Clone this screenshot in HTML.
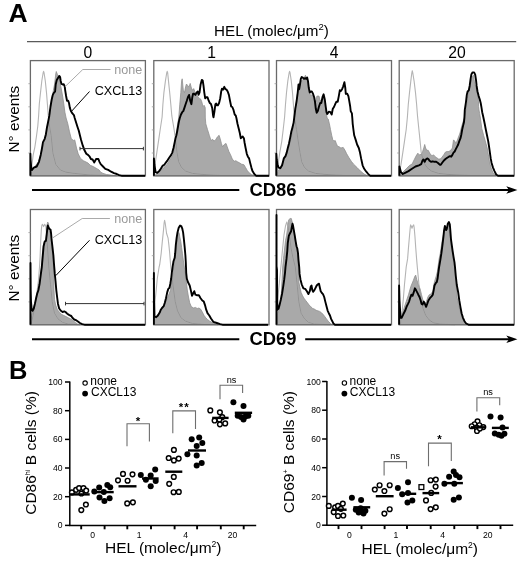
<!DOCTYPE html>
<html><head><meta charset="utf-8"><style>
html,body{margin:0;padding:0;background:#fff;width:520px;height:563px;overflow:hidden}
svg{display:block;will-change:transform}
text{font-family:"Liberation Sans",sans-serif;fill:#000}
</style></head><body>
<svg width="520" height="563" viewBox="0 0 520 563">
<text x="8.6" y="22.2" font-size="26.5" font-weight="bold">A</text>
<text x="271.5" y="35.6" font-size="15.2" text-anchor="middle">HEL (molec/μm<tspan font-size="9.5" dy="-5.5">2</tspan><tspan dy="5.5">)</tspan></text>
<line x1="27" y1="41.7" x2="516.2" y2="41.7" stroke="#5a5a5a" stroke-width="1.3"/>
<g font-size="15.7" text-anchor="middle">
<text x="87.9" y="57.8">0</text>
<text x="211.5" y="57.8">1</text>
<text x="334" y="57.8">4</text>
<text x="457" y="57.8">20</text>
</g>
<polygon points="30.9,175.7 30.9,172.2 32.6,170.0 34.9,166.5 38.4,161.8 40.7,154.9 43.0,146.8 45.3,138.8 47.0,129.5 48.8,118.0 50.0,113.4 51.1,104.0 52.2,96.0 53.4,90.3 54.5,84.5 55.3,78.0 55.8,73.5 56.3,71.5 56.8,73.0 57.5,74.5 59.2,77.6 60.9,86.8 62.6,96.0 63.8,104.0 64.9,112.2 66.1,118.0 67.8,123.8 69.5,131.8 71.3,138.8 73.6,140.5 74.7,139.9 75.3,142.2 76.5,148.0 78.2,153.8 80.5,158.4 83.4,160.7 88.0,163.0 90.3,165.3 93.2,166.5 96.1,168.2 99.0,169.9 100.7,172.2 103.0,173.4 106.5,174.5 111.1,175.1 116.8,175.7 116.8,175.7" fill="#a9a9a9" stroke="#8f8f8f" stroke-width="0.8" stroke-linejoin="round"/>
<clipPath id="cp_r1c1"><polygon points="30.9,175.7 30.9,172.2 32.6,170.0 34.9,166.5 38.4,161.8 40.7,154.9 43.0,146.8 45.3,138.8 47.0,129.5 48.8,118.0 50.0,113.4 51.1,104.0 52.2,96.0 53.4,90.3 54.5,84.5 55.3,78.0 55.8,73.5 56.3,71.5 56.8,73.0 57.5,74.5 59.2,77.6 60.9,86.8 62.6,96.0 63.8,104.0 64.9,112.2 66.1,118.0 67.8,123.8 69.5,131.8 71.3,138.8 73.6,140.5 74.7,139.9 75.3,142.2 76.5,148.0 78.2,153.8 80.5,158.4 83.4,160.7 88.0,163.0 90.3,165.3 93.2,166.5 96.1,168.2 99.0,169.9 100.7,172.2 103.0,173.4 106.5,174.5 111.1,175.1 116.8,175.7 116.8,175.7"/></clipPath>
<polyline points="31.0,175.5 31.2,172.0 32.0,164.2 33.2,154.9 34.9,146.8 36.5,136.0 37.8,126.0 38.6,116.0 39.3,104.0 40.5,92.6 41.8,81.0 43.1,73.0 43.6,71.3 44.1,73.0 45.3,81.0 46.5,92.6 47.4,104.0 48.3,116.0 49.5,126.0 51.1,135.3 52.0,144.0 52.8,152.6 55.7,164.2 60.3,170.0 66.0,172.2 74.2,173.4 90.0,175.0 110.0,175.7" fill="none" stroke="#b4b4b4" stroke-width="1.1" stroke-linejoin="round"/>
<polyline points="31.0,175.5 31.2,172.0 32.0,164.2 33.2,154.9 34.9,146.8 36.5,136.0 37.8,126.0 38.6,116.0 39.3,104.0 40.5,92.6 41.8,81.0 43.1,73.0 43.6,71.3 44.1,73.0 45.3,81.0 46.5,92.6 47.4,104.0 48.3,116.0 49.5,126.0 51.1,135.3 52.0,144.0 52.8,152.6 55.7,164.2 60.3,170.0 66.0,172.2 74.2,173.4 90.0,175.0 110.0,175.7" fill="none" stroke="#8e8e8e" stroke-width="0.9" stroke-linejoin="round" clip-path="url(#cp_r1c1)"/>
<polygon points="155.6,175.7 155.6,174.5 160.2,171.1 163.7,167.6 167.2,164.2 170.6,158.4 172.9,154.9 174.1,150.3 175.2,141.1 176.4,133.0 177.5,124.9 178.7,118.0 179.8,104.2 180.8,92.6 181.6,81.1 182.2,78.8 183.3,90.3 184.5,92.6 185.6,86.8 186.5,84.0 187.7,85.7 189.1,86.8 190.2,83.4 191.4,88.0 192.5,90.3 193.7,88.6 194.8,91.5 196.6,94.9 198.3,97.2 199.5,98.4 200.6,99.0 201.8,101.8 202.9,106.5 204.1,105.3 205.2,107.6 205.3,118.0 205.8,123.8 207.5,129.5 209.3,135.3 211.0,140.5 212.7,139.3 213.9,141.1 215.6,139.9 217.3,137.0 219.1,135.3 220.2,138.8 221.4,143.4 222.5,146.8 224.3,144.5 226.0,143.4 227.2,146.8 228.9,151.5 230.6,154.9 232.3,159.0 234.1,161.3 235.8,160.7 237.5,161.8 239.8,163.0 241.6,164.2 243.9,164.7 245.6,167.6 247.3,170.5 249.1,172.8 251.4,174.5 254.3,175.7 254.3,175.7" fill="#a9a9a9" stroke="#8f8f8f" stroke-width="0.8" stroke-linejoin="round"/>
<clipPath id="cp_r1c2"><polygon points="155.6,175.7 155.6,174.5 160.2,171.1 163.7,167.6 167.2,164.2 170.6,158.4 172.9,154.9 174.1,150.3 175.2,141.1 176.4,133.0 177.5,124.9 178.7,118.0 179.8,104.2 180.8,92.6 181.6,81.1 182.2,78.8 183.3,90.3 184.5,92.6 185.6,86.8 186.5,84.0 187.7,85.7 189.1,86.8 190.2,83.4 191.4,88.0 192.5,90.3 193.7,88.6 194.8,91.5 196.6,94.9 198.3,97.2 199.5,98.4 200.6,99.0 201.8,101.8 202.9,106.5 204.1,105.3 205.2,107.6 205.3,118.0 205.8,123.8 207.5,129.5 209.3,135.3 211.0,140.5 212.7,139.3 213.9,141.1 215.6,139.9 217.3,137.0 219.1,135.3 220.2,138.8 221.4,143.4 222.5,146.8 224.3,144.5 226.0,143.4 227.2,146.8 228.9,151.5 230.6,154.9 232.3,159.0 234.1,161.3 235.8,160.7 237.5,161.8 239.8,163.0 241.6,164.2 243.9,164.7 245.6,167.6 247.3,170.5 249.1,172.8 251.4,174.5 254.3,175.7 254.3,175.7"/></clipPath>
<polyline points="154.5,175.5 154.5,168.8 155.4,161.8 156.8,152.6 158.5,141.1 160.2,129.5 162.1,117.0 162.9,104.2 163.9,92.6 165.4,81.1 166.7,73.0 167.2,71.3 167.7,73.0 168.5,81.1 169.7,92.6 170.8,104.2 171.8,115.7 172.5,120.0 174.1,129.5 175.8,141.1 177.0,152.6 178.7,161.8 181.6,167.6 185.6,171.1 192.5,173.4 202.9,174.5 220.0,175.5" fill="none" stroke="#b4b4b4" stroke-width="1.1" stroke-linejoin="round"/>
<polyline points="154.5,175.5 154.5,168.8 155.4,161.8 156.8,152.6 158.5,141.1 160.2,129.5 162.1,117.0 162.9,104.2 163.9,92.6 165.4,81.1 166.7,73.0 167.2,71.3 167.7,73.0 168.5,81.1 169.7,92.6 170.8,104.2 171.8,115.7 172.5,120.0 174.1,129.5 175.8,141.1 177.0,152.6 178.7,161.8 181.6,167.6 185.6,171.1 192.5,173.4 202.9,174.5 220.0,175.5" fill="none" stroke="#8e8e8e" stroke-width="0.9" stroke-linejoin="round" clip-path="url(#cp_r1c2)"/>
<polygon points="276.9,175.7 276.9,172.2 279.8,168.8 283.2,161.8 285.5,156.1 287.8,150.3 290.2,142.2 292.5,131.8 293.6,123.8 294.2,118.0 294.8,111.1 295.9,104.2 297.1,96.1 298.2,89.2 299.4,84.5 301.1,81.1 302.8,79.9 304.6,77.0 305.4,75.3 306.3,77.0 307.5,81.1 308.4,88.0 309.2,92.6 310.3,94.9 311.5,94.9 313.2,96.1 314.4,99.5 315.8,101.8 316.9,96.1 318.1,96.1 319.0,96.1 319.9,99.5 321.1,101.8 322.2,99.5 323.4,96.1 324.8,101.8 325.9,111.1 327.1,118.0 328.2,119.0 329.4,123.8 330.5,129.5 331.7,135.3 332.8,139.9 334.0,141.1 335.2,140.5 336.3,143.4 337.5,146.3 339.2,146.8 340.9,148.0 343.2,147.4 345.0,150.3 346.7,153.8 349.0,157.8 351.3,161.3 353.6,164.2 357.1,167.6 360.5,171.1 364.0,174.0 367.5,175.7 367.5,175.7" fill="#a9a9a9" stroke="#8f8f8f" stroke-width="0.8" stroke-linejoin="round"/>
<clipPath id="cp_r1c3"><polygon points="276.9,175.7 276.9,172.2 279.8,168.8 283.2,161.8 285.5,156.1 287.8,150.3 290.2,142.2 292.5,131.8 293.6,123.8 294.2,118.0 294.8,111.1 295.9,104.2 297.1,96.1 298.2,89.2 299.4,84.5 301.1,81.1 302.8,79.9 304.6,77.0 305.4,75.3 306.3,77.0 307.5,81.1 308.4,88.0 309.2,92.6 310.3,94.9 311.5,94.9 313.2,96.1 314.4,99.5 315.8,101.8 316.9,96.1 318.1,96.1 319.0,96.1 319.9,99.5 321.1,101.8 322.2,99.5 323.4,96.1 324.8,101.8 325.9,111.1 327.1,118.0 328.2,119.0 329.4,123.8 330.5,129.5 331.7,135.3 332.8,139.9 334.0,141.1 335.2,140.5 336.3,143.4 337.5,146.3 339.2,146.8 340.9,148.0 343.2,147.4 345.0,150.3 346.7,153.8 349.0,157.8 351.3,161.3 353.6,164.2 357.1,167.6 360.5,171.1 364.0,174.0 367.5,175.7 367.5,175.7"/></clipPath>
<polyline points="277.3,175.5 277.5,168.8 278.4,161.8 279.8,152.6 281.8,141.1 283.2,129.5 284.6,117.0 285.5,104.2 286.5,92.6 287.8,81.1 289.1,73.0 289.6,71.3 290.1,73.0 291.3,81.1 292.5,92.6 293.4,104.2 294.2,115.7 295.3,122.0 296.5,129.5 298.2,141.1 300.0,152.6 301.7,161.8 304.6,167.6 308.6,171.1 315.5,173.4 325.9,174.5 345.0,175.5" fill="none" stroke="#b4b4b4" stroke-width="1.1" stroke-linejoin="round"/>
<polyline points="277.3,175.5 277.5,168.8 278.4,161.8 279.8,152.6 281.8,141.1 283.2,129.5 284.6,117.0 285.5,104.2 286.5,92.6 287.8,81.1 289.1,73.0 289.6,71.3 290.1,73.0 291.3,81.1 292.5,92.6 293.4,104.2 294.2,115.7 295.3,122.0 296.5,129.5 298.2,141.1 300.0,152.6 301.7,161.8 304.6,167.6 308.6,171.1 315.5,173.4 325.9,174.5 345.0,175.5" fill="none" stroke="#8e8e8e" stroke-width="0.9" stroke-linejoin="round" clip-path="url(#cp_r1c3)"/>
<polygon points="399.5,175.7 401.6,173.4 406.2,168.8 409.7,165.3 412.0,164.2 414.3,159.5 416.0,156.1 417.8,153.2 419.5,154.9 421.2,154.3 422.6,151.5 423.8,148.0 424.7,144.5 425.6,148.0 426.8,150.3 428.2,150.3 429.5,152.6 430.7,154.9 432.2,155.5 433.7,154.9 435.1,156.7 436.8,157.8 438.5,159.0 440.3,159.0 442.0,157.2 443.7,154.9 445.5,152.0 447.2,151.5 448.9,151.5 450.7,150.3 452.4,148.0 453.5,139.9 454.7,141.1 455.8,143.4 457.0,141.1 458.5,137.0 460.0,133.0 461.5,127.0 463.0,122.0 464.2,118.0 465.1,114.0 466.2,108.8 467.4,98.4 468.5,91.5 469.7,88.0 470.6,83.4 472.0,77.6 473.2,75.3 473.7,75.3 474.3,81.1 474.9,84.5 475.7,86.8 476.8,91.5 478.0,96.1 478.5,101.8 478.6,106.5 479.0,109.9 479.6,113.4 480.4,118.0 481.8,128.4 483.6,135.3 485.3,141.1 487.2,148.0 488.4,154.9 489.5,161.8 491.0,167.6 492.8,172.2 495.1,175.1 496.0,175.7 496.0,175.7" fill="#a9a9a9" stroke="#8f8f8f" stroke-width="0.8" stroke-linejoin="round"/>
<clipPath id="cp_r1c4"><polygon points="399.5,175.7 401.6,173.4 406.2,168.8 409.7,165.3 412.0,164.2 414.3,159.5 416.0,156.1 417.8,153.2 419.5,154.9 421.2,154.3 422.6,151.5 423.8,148.0 424.7,144.5 425.6,148.0 426.8,150.3 428.2,150.3 429.5,152.6 430.7,154.9 432.2,155.5 433.7,154.9 435.1,156.7 436.8,157.8 438.5,159.0 440.3,159.0 442.0,157.2 443.7,154.9 445.5,152.0 447.2,151.5 448.9,151.5 450.7,150.3 452.4,148.0 453.5,139.9 454.7,141.1 455.8,143.4 457.0,141.1 458.5,137.0 460.0,133.0 461.5,127.0 463.0,122.0 464.2,118.0 465.1,114.0 466.2,108.8 467.4,98.4 468.5,91.5 469.7,88.0 470.6,83.4 472.0,77.6 473.2,75.3 473.7,75.3 474.3,81.1 474.9,84.5 475.7,86.8 476.8,91.5 478.0,96.1 478.5,101.8 478.6,106.5 479.0,109.9 479.6,113.4 480.4,118.0 481.8,128.4 483.6,135.3 485.3,141.1 487.2,148.0 488.4,154.9 489.5,161.8 491.0,167.6 492.8,172.2 495.1,175.1 496.0,175.7 496.0,175.7"/></clipPath>
<polyline points="400.2,175.5 400.2,168.8 401.4,161.8 402.8,152.6 404.5,141.1 406.2,129.5 407.4,117.0 408.3,104.2 409.5,92.6 410.8,81.1 411.8,73.0 412.3,70.7 412.8,73.0 414.1,81.1 415.5,92.6 416.6,104.2 417.5,115.7 418.9,129.5 420.1,141.1 421.2,152.6 423.5,161.8 427.0,167.6 431.6,171.1 438.5,173.4 448.9,174.5 470.0,175.5" fill="none" stroke="#b4b4b4" stroke-width="1.1" stroke-linejoin="round"/>
<polyline points="400.2,175.5 400.2,168.8 401.4,161.8 402.8,152.6 404.5,141.1 406.2,129.5 407.4,117.0 408.3,104.2 409.5,92.6 410.8,81.1 411.8,73.0 412.3,70.7 412.8,73.0 414.1,81.1 415.5,92.6 416.6,104.2 417.5,115.7 418.9,129.5 420.1,141.1 421.2,152.6 423.5,161.8 427.0,167.6 431.6,171.1 438.5,173.4 448.9,174.5 470.0,175.5" fill="none" stroke="#8e8e8e" stroke-width="0.9" stroke-linejoin="round" clip-path="url(#cp_r1c4)"/>
<polygon points="30.9,324.7 31.5,315.5 33.8,306.2 36.1,299.3 37.8,293.5 39.0,288.9 40.1,280.8 40.9,272.8 41.6,267.0 42.4,253.2 43.6,243.9 44.7,240.5 45.9,239.3 46.5,232.4 47.0,225.5 47.6,222.0 48.5,223.2 49.3,230.1 50.5,233.5 51.1,238.2 51.7,243.9 52.2,250.8 53.2,258.9 53.5,267.0 53.8,278.5 54.0,290.1 54.5,299.3 55.7,305.1 57.4,309.7 59.2,312.0 61.5,314.3 63.8,315.5 66.1,316.6 68.4,317.8 70.7,318.9 73.0,320.7 75.3,322.4 77.6,324.1 79.9,324.7 79.9,324.7" fill="#a9a9a9" stroke="#8f8f8f" stroke-width="0.8" stroke-linejoin="round"/>
<clipPath id="cp_r2c1"><polygon points="30.9,324.7 31.5,315.5 33.8,306.2 36.1,299.3 37.8,293.5 39.0,288.9 40.1,280.8 40.9,272.8 41.6,267.0 42.4,253.2 43.6,243.9 44.7,240.5 45.9,239.3 46.5,232.4 47.0,225.5 47.6,222.0 48.5,223.2 49.3,230.1 50.5,233.5 51.1,238.2 51.7,243.9 52.2,250.8 53.2,258.9 53.5,267.0 53.8,278.5 54.0,290.1 54.5,299.3 55.7,305.1 57.4,309.7 59.2,312.0 61.5,314.3 63.8,315.5 66.1,316.6 68.4,317.8 70.7,318.9 73.0,320.7 75.3,322.4 77.6,324.1 79.9,324.7 79.9,324.7"/></clipPath>
<polyline points="31.0,324.5 31.5,322.0 33.0,316.0 35.0,305.0 37.0,292.0 38.5,280.0 39.5,267.0 40.1,256.6 40.7,241.6 41.3,230.1 41.8,225.5 42.4,224.3 43.6,226.6 44.7,224.3 45.9,226.6 47.0,240.0 48.0,255.0 48.8,267.0 50.5,284.3 52.2,301.6 54.5,313.2 58.0,318.9 62.6,322.4 68.4,324.1 80.0,324.7" fill="none" stroke="#b4b4b4" stroke-width="1.1" stroke-linejoin="round"/>
<polyline points="31.0,324.5 31.5,322.0 33.0,316.0 35.0,305.0 37.0,292.0 38.5,280.0 39.5,267.0 40.1,256.6 40.7,241.6 41.3,230.1 41.8,225.5 42.4,224.3 43.6,226.6 44.7,224.3 45.9,226.6 47.0,240.0 48.0,255.0 48.8,267.0 50.5,284.3 52.2,301.6 54.5,313.2 58.0,318.9 62.6,322.4 68.4,324.1 80.0,324.7" fill="none" stroke="#8e8e8e" stroke-width="0.9" stroke-linejoin="round" clip-path="url(#cp_r2c1)"/>
<polygon points="154.5,324.7 154.5,318.9 155.6,317.8 159.1,313.2 162.5,307.4 166.0,301.6 168.3,295.8 170.6,290.1 171.8,282.0 172.9,273.9 173.8,267.0 175.2,256.6 176.4,245.1 177.5,237.0 178.7,232.4 179.3,233.5 179.8,237.0 180.8,241.6 181.6,247.4 182.4,253.2 183.3,260.1 184.3,267.0 185.4,273.9 186.2,280.8 187.3,290.1 188.5,297.0 189.7,302.8 191.4,306.8 193.7,308.0 195.4,307.4 197.2,308.5 198.9,308.0 200.6,309.1 202.3,312.0 204.1,315.5 205.8,317.8 207.5,319.5 209.8,321.2 212.0,322.5 215.0,323.8 218.0,324.7 218.0,324.7" fill="#a9a9a9" stroke="#8f8f8f" stroke-width="0.8" stroke-linejoin="round"/>
<clipPath id="cp_r2c2"><polygon points="154.5,324.7 154.5,318.9 155.6,317.8 159.1,313.2 162.5,307.4 166.0,301.6 168.3,295.8 170.6,290.1 171.8,282.0 172.9,273.9 173.8,267.0 175.2,256.6 176.4,245.1 177.5,237.0 178.7,232.4 179.3,233.5 179.8,237.0 180.8,241.6 181.6,247.4 182.4,253.2 183.3,260.1 184.3,267.0 185.4,273.9 186.2,280.8 187.3,290.1 188.5,297.0 189.7,302.8 191.4,306.8 193.7,308.0 195.4,307.4 197.2,308.5 198.9,308.0 200.6,309.1 202.3,312.0 204.1,315.5 205.8,317.8 207.5,319.5 209.8,321.2 212.0,322.5 215.0,323.8 218.0,324.7 218.0,324.7"/></clipPath>
<polyline points="154.6,324.0 154.6,315.0 155.0,301.6 156.2,290.1 157.3,278.5 159.1,267.0 159.7,264.7 161.2,253.2 162.3,241.6 163.5,230.1 164.1,223.0 164.6,220.3 165.2,223.0 166.6,233.5 168.1,238.2 168.9,245.1 169.7,253.2 170.4,262.4 170.8,267.0 172.9,284.3 175.2,301.6 177.5,310.8 181.0,317.8 185.6,321.2 192.5,323.5 205.0,324.5" fill="none" stroke="#b4b4b4" stroke-width="1.1" stroke-linejoin="round"/>
<polyline points="154.6,324.0 154.6,315.0 155.0,301.6 156.2,290.1 157.3,278.5 159.1,267.0 159.7,264.7 161.2,253.2 162.3,241.6 163.5,230.1 164.1,223.0 164.6,220.3 165.2,223.0 166.6,233.5 168.1,238.2 168.9,245.1 169.7,253.2 170.4,262.4 170.8,267.0 172.9,284.3 175.2,301.6 177.5,310.8 181.0,317.8 185.6,321.2 192.5,323.5 205.0,324.5" fill="none" stroke="#8e8e8e" stroke-width="0.9" stroke-linejoin="round" clip-path="url(#cp_r2c2)"/>
<polygon points="276.9,324.7 277.5,313.2 278.6,310.8 279.8,306.2 280.9,300.5 281.5,290.1 282.1,278.5 282.7,267.0 283.8,255.5 285.0,245.1 285.5,240.5 286.5,235.8 287.3,230.1 287.8,224.3 288.8,219.7 290.2,218.5 291.3,218.5 292.2,222.0 293.0,225.5 293.8,230.1 294.8,237.0 295.9,243.9 296.8,247.4 297.7,253.2 298.2,258.9 298.3,267.0 298.5,273.9 298.8,282.0 300.0,287.8 301.1,292.4 302.6,295.8 304.0,298.2 305.7,300.5 307.5,302.8 309.2,305.1 310.9,306.8 312.7,308.5 314.4,309.1 316.1,310.3 317.8,310.8 319.6,311.4 321.3,312.6 323.0,314.3 324.8,316.6 326.5,318.9 328.2,321.2 330.5,323.5 332.3,324.7 332.3,324.7" fill="#a9a9a9" stroke="#8f8f8f" stroke-width="0.8" stroke-linejoin="round"/>
<clipPath id="cp_r2c3"><polygon points="276.9,324.7 277.5,313.2 278.6,310.8 279.8,306.2 280.9,300.5 281.5,290.1 282.1,278.5 282.7,267.0 283.8,255.5 285.0,245.1 285.5,240.5 286.5,235.8 287.3,230.1 287.8,224.3 288.8,219.7 290.2,218.5 291.3,218.5 292.2,222.0 293.0,225.5 293.8,230.1 294.8,237.0 295.9,243.9 296.8,247.4 297.7,253.2 298.2,258.9 298.3,267.0 298.5,273.9 298.8,282.0 300.0,287.8 301.1,292.4 302.6,295.8 304.0,298.2 305.7,300.5 307.5,302.8 309.2,305.1 310.9,306.8 312.7,308.5 314.4,309.1 316.1,310.3 317.8,310.8 319.6,311.4 321.3,312.6 323.0,314.3 324.8,316.6 326.5,318.9 328.2,321.2 330.5,323.5 332.3,324.7 332.3,324.7"/></clipPath>
<polyline points="277.3,324.0 277.5,301.6 278.6,290.1 279.8,278.5 280.9,267.0 282.5,250.0 284.0,235.0 285.5,226.0 286.8,222.0 288.0,226.0 289.5,236.0 291.0,248.0 293.0,258.0 295.3,267.0 297.1,284.3 298.8,301.6 301.1,313.2 304.6,318.9 308.6,322.4 314.4,324.1 330.0,324.7" fill="none" stroke="#b4b4b4" stroke-width="1.1" stroke-linejoin="round"/>
<polyline points="277.3,324.0 277.5,301.6 278.6,290.1 279.8,278.5 280.9,267.0 282.5,250.0 284.0,235.0 285.5,226.0 286.8,222.0 288.0,226.0 289.5,236.0 291.0,248.0 293.0,258.0 295.3,267.0 297.1,284.3 298.8,301.6 301.1,313.2 304.6,318.9 308.6,322.4 314.4,324.1 330.0,324.7" fill="none" stroke="#8e8e8e" stroke-width="0.9" stroke-linejoin="round" clip-path="url(#cp_r2c3)"/>
<polygon points="400.0,324.7 400.5,318.9 403.9,308.5 406.2,301.6 408.5,294.7 410.8,286.6 413.2,280.8 414.9,276.2 415.7,275.1 416.8,279.7 418.3,284.3 420.1,288.9 421.5,294.7 423.0,300.5 424.7,303.9 426.4,301.6 427.9,297.0 429.3,294.7 431.0,294.1 432.8,291.2 433.9,284.3 435.1,279.7 436.2,276.2 437.4,271.6 438.0,267.0 439.1,258.9 440.3,253.2 442.0,241.6 443.2,235.8 444.3,230.1 445.5,227.8 446.5,229.0 447.5,226.0 448.3,224.3 450.1,235.8 451.2,246.2 452.4,253.2 453.5,261.2 454.5,267.0 455.5,277.0 457.0,297.0 458.7,305.1 460.5,312.0 462.2,317.8 463.9,321.8 466.2,324.1 467.0,324.7 467.0,324.7" fill="#a9a9a9" stroke="#8f8f8f" stroke-width="0.8" stroke-linejoin="round"/>
<clipPath id="cp_r2c4"><polygon points="400.0,324.7 400.5,318.9 403.9,308.5 406.2,301.6 408.5,294.7 410.8,286.6 413.2,280.8 414.9,276.2 415.7,275.1 416.8,279.7 418.3,284.3 420.1,288.9 421.5,294.7 423.0,300.5 424.7,303.9 426.4,301.6 427.9,297.0 429.3,294.7 431.0,294.1 432.8,291.2 433.9,284.3 435.1,279.7 436.2,276.2 437.4,271.6 438.0,267.0 439.1,258.9 440.3,253.2 442.0,241.6 443.2,235.8 444.3,230.1 445.5,227.8 446.5,229.0 447.5,226.0 448.3,224.3 450.1,235.8 451.2,246.2 452.4,253.2 453.5,261.2 454.5,267.0 455.5,277.0 457.0,297.0 458.7,305.1 460.5,312.0 462.2,317.8 463.9,321.8 466.2,324.1 467.0,324.7 467.0,324.7"/></clipPath>
<polyline points="400.5,324.0 401.0,317.8 402.2,310.8 403.3,299.3 404.5,284.3 406.2,267.0 407.6,258.9 408.5,247.4 409.5,235.8 410.3,227.0 410.6,224.9 411.2,226.0 412.0,228.3 412.8,226.0 413.7,224.9 414.1,227.0 414.9,235.8 415.7,247.4 416.6,258.9 417.3,267.0 418.9,284.3 420.7,298.2 423.0,308.5 425.8,315.5 429.3,320.1 433.9,323.0 440.8,324.1 455.0,324.7" fill="none" stroke="#b4b4b4" stroke-width="1.1" stroke-linejoin="round"/>
<polyline points="400.5,324.0 401.0,317.8 402.2,310.8 403.3,299.3 404.5,284.3 406.2,267.0 407.6,258.9 408.5,247.4 409.5,235.8 410.3,227.0 410.6,224.9 411.2,226.0 412.0,228.3 412.8,226.0 413.7,224.9 414.1,227.0 414.9,235.8 415.7,247.4 416.6,258.9 417.3,267.0 418.9,284.3 420.7,298.2 423.0,308.5 425.8,315.5 429.3,320.1 433.9,323.0 440.8,324.1 455.0,324.7" fill="none" stroke="#8e8e8e" stroke-width="0.9" stroke-linejoin="round" clip-path="url(#cp_r2c4)"/>
<g fill="none" stroke="#6a6a6a" stroke-width="1.3">
<rect x="30.4" y="60.6" width="115" height="115.3"/>
<rect x="153.8" y="60.6" width="115.2" height="115.3"/>
<rect x="276.5" y="60.6" width="115" height="115.3"/>
<rect x="399.2" y="60.6" width="115" height="115.3"/>
<rect x="30.4" y="209.5" width="115" height="115.3"/>
<rect x="153.8" y="209.5" width="115.2" height="115.3"/>
<rect x="276.5" y="209.5" width="115" height="115.3"/>
<rect x="399.2" y="209.5" width="115" height="115.3"/>
</g>
<g stroke="#999" stroke-width="0.8"><line x1="28.4" y1="83.7" x2="30.4" y2="83.7"/><line x1="28.4" y1="106.8" x2="30.4" y2="106.8"/><line x1="28.4" y1="129.9" x2="30.4" y2="129.9"/><line x1="28.4" y1="153.0" x2="30.4" y2="153.0"/><line x1="28.4" y1="232.6" x2="30.4" y2="232.6"/><line x1="28.4" y1="255.7" x2="30.4" y2="255.7"/><line x1="28.4" y1="278.8" x2="30.4" y2="278.8"/><line x1="28.4" y1="301.9" x2="30.4" y2="301.9"/><line x1="151.8" y1="83.7" x2="153.8" y2="83.7"/><line x1="151.8" y1="106.8" x2="153.8" y2="106.8"/><line x1="151.8" y1="129.9" x2="153.8" y2="129.9"/><line x1="151.8" y1="153.0" x2="153.8" y2="153.0"/><line x1="151.8" y1="232.6" x2="153.8" y2="232.6"/><line x1="151.8" y1="255.7" x2="153.8" y2="255.7"/><line x1="151.8" y1="278.8" x2="153.8" y2="278.8"/><line x1="151.8" y1="301.9" x2="153.8" y2="301.9"/><line x1="274.5" y1="83.7" x2="276.5" y2="83.7"/><line x1="274.5" y1="106.8" x2="276.5" y2="106.8"/><line x1="274.5" y1="129.9" x2="276.5" y2="129.9"/><line x1="274.5" y1="153.0" x2="276.5" y2="153.0"/><line x1="274.5" y1="232.6" x2="276.5" y2="232.6"/><line x1="274.5" y1="255.7" x2="276.5" y2="255.7"/><line x1="274.5" y1="278.8" x2="276.5" y2="278.8"/><line x1="274.5" y1="301.9" x2="276.5" y2="301.9"/><line x1="397.2" y1="83.7" x2="399.2" y2="83.7"/><line x1="397.2" y1="106.8" x2="399.2" y2="106.8"/><line x1="397.2" y1="129.9" x2="399.2" y2="129.9"/><line x1="397.2" y1="153.0" x2="399.2" y2="153.0"/><line x1="397.2" y1="232.6" x2="399.2" y2="232.6"/><line x1="397.2" y1="255.7" x2="399.2" y2="255.7"/><line x1="397.2" y1="278.8" x2="399.2" y2="278.8"/><line x1="397.2" y1="301.9" x2="399.2" y2="301.9"/></g>
<polyline points="30.4,175.7 30.4,153.8 30.6,160.0 31.3,168.0 32.0,170.0 33.8,167.6 36.7,166.5 39.0,161.8 40.7,154.9 41.8,149.2 43.0,142.2 44.7,138.8 45.9,134.2 47.0,127.2 48.2,121.5 49.3,115.7 50.5,106.5 51.7,99.5 52.8,94.9 54.0,92.6 55.1,91.5 55.7,84.5 56.8,79.9 57.8,78.2 58.6,77.0 59.4,75.9 60.1,77.0 60.7,81.0 61.5,84.0 62.6,84.5 63.8,84.3 64.7,86.3 65.2,90.3 66.1,96.0 67.0,100.7 68.2,100.7 69.0,103.0 69.8,107.6 70.9,111.0 72.4,113.4 73.9,115.1 74.7,118.0 76.5,123.8 77.6,127.2 78.8,130.7 79.9,135.3 81.1,139.9 82.8,145.7 84.5,150.3 86.3,153.8 88.0,154.9 89.7,156.7 90.9,159.0 92.6,159.5 94.3,162.4 96.1,159.0 98.4,159.0 99.5,161.8 100.7,164.2 103.0,166.5 105.3,168.8 108.2,169.9 111.1,171.7 114.0,173.2 116.8,174.0 119.2,175.1 121.5,175.7 145.0,175.7" fill="none" stroke="#000" stroke-width="1.9" stroke-linejoin="round"/>
<polyline points="153.9,175.7 153.9,158.4 154.5,165.0 155.6,172.2 157.3,172.8 159.1,171.1 160.8,168.8 162.5,165.9 164.3,164.7 166.0,162.4 167.7,160.1 169.5,157.2 171.2,154.9 172.3,152.6 173.5,148.0 174.7,142.2 175.5,138.2 176.4,135.3 177.3,130.7 178.1,126.1 178.9,121.5 179.8,118.0 181.0,114.5 182.2,112.2 183.3,111.1 184.5,107.6 185.6,104.2 186.8,100.7 187.9,97.2 189.1,94.9 190.2,100.7 191.4,104.2 192.3,97.2 193.1,93.8 194.3,93.8 195.4,94.9 196.6,92.6 197.7,91.5 198.5,94.9 199.5,92.6 200.6,84.5 201.8,79.9 202.7,80.5 203.5,85.7 204.3,92.6 205.2,98.4 206.4,97.2 207.5,97.2 208.7,100.7 209.8,103.0 211.0,104.0 212.2,108.0 213.1,115.7 213.5,117.4 214.5,111.1 215.4,104.2 216.2,103.6 217.0,105.3 217.9,105.3 219.1,103.0 220.2,98.4 221.2,91.5 222.0,88.6 223.1,89.7 224.3,86.8 225.4,89.1 226.6,89.7 227.7,91.5 228.9,94.9 230.0,100.7 231.2,106.5 232.3,107.0 233.5,109.9 234.7,114.5 235.8,115.7 236.4,118.0 237.5,123.8 238.7,128.4 239.8,133.0 240.8,138.2 241.6,137.6 242.7,136.5 243.9,138.2 244.5,142.2 245.6,148.0 246.8,153.8 247.9,156.7 249.1,158.4 250.2,163.0 251.4,167.6 252.5,171.1 254.3,174.0 256.0,175.7 269.0,175.7" fill="none" stroke="#000" stroke-width="1.9" stroke-linejoin="round"/>
<polyline points="276.3,175.7 276.3,153.8 276.8,160.0 277.5,164.2 278.6,167.6 280.3,168.2 282.1,165.3 283.8,158.4 285.5,156.1 286.7,152.6 287.8,148.0 289.0,143.4 290.2,137.6 291.3,131.8 292.5,127.2 293.6,122.6 294.2,118.0 295.3,108.8 296.5,101.8 297.7,92.6 298.5,84.5 299.2,89.2 300.0,84.5 300.8,78.8 301.7,77.0 302.8,77.6 304.0,78.8 305.2,78.2 306.3,78.8 307.2,77.6 308.0,81.1 308.8,88.0 309.8,92.6 310.7,91.5 311.8,91.5 313.0,93.8 314.2,97.2 315.0,101.8 315.8,108.8 316.7,112.8 317.8,111.1 319.0,106.5 320.2,103.0 321.3,103.0 322.5,97.2 323.6,94.3 324.8,99.5 325.7,106.5 326.5,112.2 327.3,114.0 328.8,111.7 330.5,112.2 331.7,114.5 332.8,108.8 334.0,107.0 335.2,104.2 336.3,101.8 337.7,101.8 338.8,96.1 339.8,90.3 340.9,90.9 342.1,89.2 343.2,86.3 344.4,82.2 345.3,88.0 345.8,93.8 347.3,93.8 348.4,96.1 349.2,100.7 350.2,106.5 350.7,111.1 351.9,113.4 352.3,118.0 352.7,123.8 353.4,129.5 354.2,135.3 355.7,139.9 357.1,144.5 358.8,148.0 360.0,152.6 361.1,158.4 362.6,165.3 364.2,168.8 366.3,171.7 368.6,174.5 370.3,175.7 391.0,175.7" fill="none" stroke="#000" stroke-width="1.9" stroke-linejoin="round"/>
<polyline points="399.4,175.7 399.4,166.5 401.0,172.2 402.8,174.0 405.1,172.8 408.5,171.1 412.0,168.8 415.5,166.5 418.9,165.3 421.2,164.2 422.4,160.7 423.5,159.5 424.7,161.8 425.8,159.5 427.2,158.4 428.4,159.0 429.5,160.7 431.0,161.8 432.8,161.3 434.5,161.8 436.2,161.8 438.0,163.0 439.7,164.7 440.8,164.7 442.0,163.0 443.7,160.7 445.5,159.0 447.2,157.8 448.9,156.7 450.1,156.1 451.2,156.7 452.4,154.9 453.5,152.6 454.7,151.5 455.8,149.2 457.0,146.8 458.2,144.5 459.3,141.1 460.5,138.2 461.4,134.2 462.2,129.5 463.0,126.1 463.9,122.6 464.4,118.0 464.8,109.9 466.0,101.8 466.8,94.9 467.6,91.5 468.8,90.3 469.7,85.7 470.6,78.8 471.4,74.2 472.6,72.4 474.1,72.4 475.2,74.7 476.0,79.9 476.6,85.7 477.5,91.5 478.7,96.1 479.8,99.5 480.7,103.0 481.5,107.6 482.2,112.2 483.3,117.0 484.7,123.8 485.8,129.5 487.0,135.3 488.2,141.1 489.1,146.8 489.9,152.6 490.7,158.4 491.6,163.0 493.0,167.6 494.5,171.1 496.2,174.5 498.0,175.7 514.0,175.7" fill="none" stroke="#000" stroke-width="1.9" stroke-linejoin="round"/>
<polyline points="30.5,324.7 30.5,263.0 30.7,290.0 31.0,301.6 31.7,309.7 32.6,310.8 33.8,308.5 34.9,303.9 36.1,298.2 37.2,293.5 38.4,290.1 39.5,284.3 40.7,275.1 41.8,267.0 42.8,255.5 43.6,246.2 44.7,241.6 45.9,241.0 46.7,234.7 47.4,227.8 47.8,225.5 48.5,227.2 49.3,228.9 50.5,229.5 51.1,233.5 51.7,240.5 52.5,247.4 53.4,255.5 54.0,264.0 54.5,270.0 54.8,273.9 55.5,280.8 56.3,290.1 57.1,297.0 58.0,303.9 59.2,308.5 60.9,310.8 62.6,312.0 64.3,311.4 65.5,312.0 67.2,313.7 69.0,314.9 70.1,315.5 71.3,316.0 72.4,317.8 74.2,319.5 75.9,320.1 77.6,321.2 79.9,323.0 82.2,324.1 84.5,324.7 145.0,324.7" fill="none" stroke="#000" stroke-width="1.9" stroke-linejoin="round"/>
<polyline points="153.9,324.7 153.9,273.0 154.0,300.0 154.5,316.6 156.2,317.2 157.9,315.5 159.7,312.6 160.8,309.7 162.0,308.0 163.7,306.2 164.8,302.8 166.0,298.2 167.2,292.4 168.3,288.9 169.5,287.8 170.4,283.2 171.2,278.5 171.8,272.8 172.6,267.0 173.5,261.2 174.7,257.8 175.2,253.2 175.8,245.1 176.6,238.2 177.5,232.4 178.7,227.8 180.1,225.5 181.2,226.0 182.2,228.3 183.1,232.4 183.9,239.3 184.7,247.4 185.4,255.5 185.8,262.4 186.0,267.0 186.2,272.8 186.8,278.5 187.9,282.0 189.7,285.5 190.8,290.1 192.0,295.8 193.1,293.5 194.3,291.2 195.4,294.7 197.2,295.3 198.9,295.3 200.6,298.2 202.3,300.5 203.8,301.6 205.0,305.1 206.2,309.7 207.5,313.2 209.3,315.5 211.0,318.5 213.3,321.8 216.8,323.0 220.2,324.1 222.5,324.7 268.0,324.7" fill="none" stroke="#000" stroke-width="1.9" stroke-linejoin="round"/>
<polyline points="276.5,324.7 276.5,215.0 276.5,266.0 277.0,270.0 277.2,300.0 277.5,309.7 278.6,308.5 279.8,303.9 280.9,299.3 282.1,293.5 283.2,286.6 284.2,279.7 285.0,272.8 285.5,267.0 286.5,258.9 287.3,250.8 287.8,242.8 288.8,235.8 289.9,233.5 291.1,231.2 291.9,226.6 292.5,223.7 293.0,225.5 293.8,230.1 294.8,235.8 295.7,241.6 296.5,246.2 297.3,248.5 298.0,253.2 298.5,260.1 299.2,267.0 299.6,273.9 300.5,279.7 301.7,284.3 303.4,288.3 305.2,288.9 306.9,291.2 308.4,294.1 309.8,291.2 310.7,286.6 311.5,285.5 312.3,290.1 313.2,291.8 314.4,290.1 315.3,288.3 316.7,285.5 317.8,284.3 319.0,283.7 319.9,287.8 320.7,291.2 321.9,293.0 323.0,294.1 324.2,297.0 325.3,301.6 326.5,306.2 327.7,310.8 328.8,313.2 330.0,315.5 331.1,318.9 332.3,321.2 333.4,323.5 335.0,324.7 391.0,324.7" fill="none" stroke="#000" stroke-width="1.9" stroke-linejoin="round"/>
<polyline points="399.1,324.7 399.1,285.5 399.5,300.0 400.5,317.8 401.6,317.8 403.3,314.3 405.1,310.8 406.8,306.2 408.0,303.9 409.1,301.6 410.3,297.6 411.4,294.7 412.6,295.8 413.7,292.4 414.9,288.3 416.0,290.1 417.2,292.4 418.3,294.7 419.5,297.0 420.7,300.5 421.5,303.9 422.6,304.5 423.8,301.6 424.9,303.9 426.1,306.8 427.2,303.9 428.4,300.5 429.9,298.2 431.6,296.4 432.8,294.7 433.7,290.1 434.5,285.5 435.7,283.2 436.8,282.0 437.6,278.5 438.3,272.8 439.1,267.0 440.3,260.1 441.4,253.2 442.6,243.9 443.4,237.0 444.1,230.1 444.9,226.0 446.0,230.1 446.8,228.9 447.8,223.7 448.9,222.0 449.8,224.3 450.3,230.1 451.0,239.3 451.8,245.1 452.6,250.8 453.5,256.6 454.5,262.4 455.0,267.0 455.8,276.0 456.8,285.0 458.2,292.4 459.3,300.5 460.5,307.4 461.6,313.2 463.0,317.8 464.5,321.2 466.2,323.5 468.5,324.7 514.0,324.7" fill="none" stroke="#000" stroke-width="1.9" stroke-linejoin="round"/>
<!-- gates -->
<g stroke="#333" stroke-width="1">
<line x1="80" y1="148.6" x2="143.4" y2="148.6"/><line x1="80" y1="146.8" x2="80" y2="150.4"/><line x1="143.4" y1="146.8" x2="143.4" y2="150.4"/>
<line x1="65.5" y1="303.6" x2="144" y2="303.6"/><line x1="65.5" y1="301.8" x2="65.5" y2="305.4"/><line x1="144" y1="301.8" x2="144" y2="305.4"/>
</g>
<!-- legends -->
<g font-size="12.6" text-anchor="end">
<text x="142.3" y="74.3" fill="#9a9a9a" style="fill:#9a9a9a">none</text>
<text x="142.3" y="94.9">CXCL13</text>
<text x="142.3" y="223.3" style="fill:#9a9a9a">none</text>
<text x="142.3" y="243.9">CXCL13</text>
</g>
<polyline points="64.9,86.8 82.8,69.5 110.5,69.5" fill="none" stroke="#aaa" stroke-width="1"/>
<line x1="71.8" y1="111" x2="89.5" y2="91.5" stroke="#000" stroke-width="1"/>
<polyline points="52.2,238.2 82.2,218.5 109.9,218.5" fill="none" stroke="#aaa" stroke-width="1"/>
<line x1="55.7" y1="275.7" x2="89.5" y2="240.3" stroke="#000" stroke-width="1"/>
<text transform="translate(18.9,152.6) rotate(-90)" font-size="15.4">N°<tspan> events</tspan></text>
<text transform="translate(18.9,301.6) rotate(-90)" font-size="15.4">N°<tspan> events</tspan></text>
<!-- CD86 arrow -->
<line x1="32" y1="190" x2="239.3" y2="190" stroke="#000" stroke-width="1.9"/>
<line x1="305.2" y1="190" x2="510" y2="190" stroke="#000" stroke-width="1.9"/>
<path d="M517.4,190 L506.3,186.2 L509,190 L506.3,193.8 Z" fill="#000"/>
<text x="249.4" y="195.5" font-size="18.4" font-weight="bold">CD86</text>
<line x1="32" y1="339.2" x2="239.3" y2="339.2" stroke="#000" stroke-width="1.9"/>
<line x1="305.2" y1="339.2" x2="510" y2="339.2" stroke="#000" stroke-width="1.9"/>
<path d="M517.4,339.2 L506.3,335.4 L509,339.2 L506.3,343 Z" fill="#000"/>
<text x="249.4" y="344.7" font-size="18.4" font-weight="bold">CD69</text>
<text x="8.9" y="379.2" font-size="25.5" font-weight="bold">B</text>
<line x1="69.8" y1="381.4" x2="69.8" y2="526.1" stroke="#000" stroke-width="1.5"/>
<line x1="69.1" y1="525.4" x2="256.2" y2="525.4" stroke="#000" stroke-width="1.5"/>
<line x1="65.0" y1="525.4" x2="69.8" y2="525.4" stroke="#000" stroke-width="1.5"/>
<text x="62.6" y="528.4" font-size="8.6" text-anchor="end">0</text>
<line x1="65.0" y1="496.7" x2="69.8" y2="496.7" stroke="#000" stroke-width="1.5"/>
<text x="62.6" y="499.7" font-size="8.6" text-anchor="end">20</text>
<line x1="65.0" y1="468.0" x2="69.8" y2="468.0" stroke="#000" stroke-width="1.5"/>
<text x="62.6" y="471.0" font-size="8.6" text-anchor="end">40</text>
<line x1="65.0" y1="439.4" x2="69.8" y2="439.4" stroke="#000" stroke-width="1.5"/>
<text x="62.6" y="442.4" font-size="8.6" text-anchor="end">60</text>
<line x1="65.0" y1="410.7" x2="69.8" y2="410.7" stroke="#000" stroke-width="1.5"/>
<text x="62.6" y="413.7" font-size="8.6" text-anchor="end">80</text>
<line x1="65.0" y1="382.0" x2="69.8" y2="382.0" stroke="#000" stroke-width="1.5"/>
<text x="62.6" y="385.0" font-size="8.6" text-anchor="end">100</text>
<line x1="81.2" y1="525.4" x2="81.2" y2="529.3" stroke="#000" stroke-width="1.9"/>
<line x1="104.6" y1="525.4" x2="104.6" y2="529.3" stroke="#000" stroke-width="1.9"/>
<line x1="127.3" y1="525.4" x2="127.3" y2="529.3" stroke="#000" stroke-width="1.9"/>
<line x1="151" y1="525.4" x2="151" y2="529.3" stroke="#000" stroke-width="1.9"/>
<line x1="174.6" y1="525.4" x2="174.6" y2="529.3" stroke="#000" stroke-width="1.9"/>
<line x1="197.1" y1="525.4" x2="197.1" y2="529.3" stroke="#000" stroke-width="1.9"/>
<line x1="220.8" y1="525.4" x2="220.8" y2="529.3" stroke="#000" stroke-width="1.9"/>
<line x1="243.7" y1="525.4" x2="243.7" y2="529.3" stroke="#000" stroke-width="1.9"/>
<text x="92.6" y="537.6" font-size="8.6" text-anchor="middle">0</text>
<text x="139.1" y="537.6" font-size="8.6" text-anchor="middle">1</text>
<text x="185.7" y="537.6" font-size="8.6" text-anchor="middle">4</text>
<text x="232.6" y="537.6" font-size="8.6" text-anchor="middle">20</text>
<text x="105.0" y="553.1" font-size="15.5">HEL (molec/μm<tspan font-size="8.6" dy="-5.8">2</tspan><tspan dy="5.8">)</tspan></text>
<text transform="translate(36.4,514.8) rotate(-90)" font-size="15.5">CD86<tspan font-size="7.2" dy="-6.3">hi</tspan><tspan dy="6.3"> B cells (%)</tspan></text>
<circle cx="85.1" cy="383.1" r="2.2" fill="#fff" stroke="#000" stroke-width="1.1"/>
<circle cx="85.1" cy="393.6" r="2.9" fill="#000"/>
<text x="90.3" y="385.1" font-size="12">none</text>
<text x="91.0" y="396.2" font-size="12">CXCL13</text>
<polyline points="127,446.3 127,423.8 149.4,423.8 149.4,441.5" fill="none" stroke="#6e6e6e" stroke-width="1.1"/>
<polyline points="172.8,433.3 172.8,410.9 195.5,410.9 195.5,429" fill="none" stroke="#6e6e6e" stroke-width="1.1"/>
<polyline points="220,399.3 220,385.2 242.6,385.2 242.6,393.1" fill="none" stroke="#6e6e6e" stroke-width="1.1"/>
<text x="138.6" y="424.6" font-size="11.5" font-weight="bold" text-anchor="middle" letter-spacing="1">*</text>
<text x="184.3" y="411.4" font-size="11.5" font-weight="bold" text-anchor="middle" letter-spacing="1">**</text>
<text x="231.6" y="382.7" font-size="9.2" text-anchor="middle">ns</text>
<circle cx="71.9" cy="492.4" r="2.35" fill="#fff" stroke="#000" stroke-width="1.45"/>
<circle cx="76.1" cy="489.8" r="2.35" fill="#fff" stroke="#000" stroke-width="1.45"/>
<circle cx="79.1" cy="488" r="2.35" fill="#fff" stroke="#000" stroke-width="1.45"/>
<circle cx="83.5" cy="488" r="2.35" fill="#fff" stroke="#000" stroke-width="1.45"/>
<circle cx="86.2" cy="490.5" r="2.35" fill="#fff" stroke="#000" stroke-width="1.45"/>
<circle cx="81.4" cy="493.5" r="2.35" fill="#fff" stroke="#000" stroke-width="1.45"/>
<circle cx="81.3" cy="510.1" r="2.35" fill="#fff" stroke="#000" stroke-width="1.45"/>
<circle cx="85.9" cy="504.5" r="2.35" fill="#fff" stroke="#000" stroke-width="1.45"/>
<line x1="70.3" y1="494.4" x2="89.7" y2="494.4" stroke="#000" stroke-width="2.4"/>
<circle cx="94.3" cy="491.6" r="3.0" fill="#000"/>
<circle cx="99.2" cy="487.5" r="3.0" fill="#000"/>
<circle cx="103.8" cy="492.1" r="3.0" fill="#000"/>
<circle cx="107.3" cy="484.9" r="3.0" fill="#000"/>
<circle cx="110.2" cy="487.2" r="3.0" fill="#000"/>
<circle cx="99.5" cy="497.6" r="3.0" fill="#000"/>
<circle cx="104.4" cy="501.1" r="3.0" fill="#000"/>
<circle cx="109.6" cy="498.2" r="3.0" fill="#000"/>
<line x1="94.5" y1="492.1" x2="113.7" y2="492.1" stroke="#000" stroke-width="2.4"/>
<circle cx="123" cy="473.9" r="2.35" fill="#fff" stroke="#000" stroke-width="1.45"/>
<circle cx="132.5" cy="474.3" r="2.35" fill="#fff" stroke="#000" stroke-width="1.45"/>
<circle cx="118" cy="480.3" r="2.35" fill="#fff" stroke="#000" stroke-width="1.45"/>
<circle cx="127.6" cy="480.7" r="2.35" fill="#fff" stroke="#000" stroke-width="1.45"/>
<circle cx="127.2" cy="503.4" r="2.35" fill="#fff" stroke="#000" stroke-width="1.45"/>
<circle cx="132.9" cy="502.3" r="2.35" fill="#fff" stroke="#000" stroke-width="1.45"/>
<line x1="118.5" y1="486.3" x2="136.5" y2="486.3" stroke="#000" stroke-width="2.4"/>
<circle cx="140.8" cy="475" r="3.0" fill="#000"/>
<circle cx="145.9" cy="479.8" r="3.0" fill="#000"/>
<circle cx="150.7" cy="475.6" r="3.0" fill="#000"/>
<circle cx="155.2" cy="469.5" r="3.0" fill="#000"/>
<circle cx="155.7" cy="480.9" r="3.0" fill="#000"/>
<circle cx="150.7" cy="486.2" r="3.0" fill="#000"/>
<line x1="142" y1="478.5" x2="158.6" y2="478.5" stroke="#000" stroke-width="2.4"/>
<circle cx="173.9" cy="449.9" r="2.35" fill="#fff" stroke="#000" stroke-width="1.45"/>
<circle cx="168.7" cy="458" r="2.35" fill="#fff" stroke="#000" stroke-width="1.45"/>
<circle cx="173.9" cy="460.4" r="2.35" fill="#fff" stroke="#000" stroke-width="1.45"/>
<circle cx="178.7" cy="458.6" r="2.35" fill="#fff" stroke="#000" stroke-width="1.45"/>
<circle cx="173.8" cy="476.9" r="2.35" fill="#fff" stroke="#000" stroke-width="1.45"/>
<circle cx="169.2" cy="483.8" r="2.35" fill="#fff" stroke="#000" stroke-width="1.45"/>
<circle cx="173.6" cy="492.2" r="2.35" fill="#fff" stroke="#000" stroke-width="1.45"/>
<circle cx="178.8" cy="491.9" r="2.35" fill="#fff" stroke="#000" stroke-width="1.45"/>
<line x1="165.3" y1="471.7" x2="182.3" y2="471.7" stroke="#000" stroke-width="2.4"/>
<circle cx="191.7" cy="439.3" r="3.0" fill="#000"/>
<circle cx="199.2" cy="437.4" r="3.0" fill="#000"/>
<circle cx="202.3" cy="443" r="3.0" fill="#000"/>
<circle cx="196.7" cy="446.1" r="3.0" fill="#000"/>
<circle cx="187.4" cy="454.2" r="3.0" fill="#000"/>
<circle cx="196.7" cy="455.5" r="3.0" fill="#000"/>
<circle cx="201.7" cy="462.9" r="3.0" fill="#000"/>
<circle cx="196.7" cy="465.4" r="3.0" fill="#000"/>
<line x1="188" y1="450.5" x2="206" y2="450.5" stroke="#000" stroke-width="2.4"/>
<circle cx="210.3" cy="410.4" r="2.35" fill="#fff" stroke="#000" stroke-width="1.45"/>
<circle cx="219.9" cy="412.3" r="2.35" fill="#fff" stroke="#000" stroke-width="1.45"/>
<circle cx="222.3" cy="417.1" r="2.35" fill="#fff" stroke="#000" stroke-width="1.45"/>
<circle cx="214.6" cy="420.5" r="2.35" fill="#fff" stroke="#000" stroke-width="1.45"/>
<circle cx="219.4" cy="419.5" r="2.35" fill="#fff" stroke="#000" stroke-width="1.45"/>
<circle cx="219.9" cy="424.3" r="2.35" fill="#fff" stroke="#000" stroke-width="1.45"/>
<circle cx="225.2" cy="423.4" r="2.35" fill="#fff" stroke="#000" stroke-width="1.45"/>
<line x1="212.2" y1="417.9" x2="228.6" y2="417.9" stroke="#000" stroke-width="2.4"/>
<circle cx="233.4" cy="402.2" r="3.0" fill="#000"/>
<circle cx="243.5" cy="406.1" r="3.0" fill="#000"/>
<circle cx="237.7" cy="415.7" r="3.0" fill="#000"/>
<circle cx="241" cy="417.1" r="3.0" fill="#000"/>
<circle cx="245.4" cy="416.6" r="3.0" fill="#000"/>
<circle cx="248.3" cy="415.7" r="3.0" fill="#000"/>
<circle cx="243.5" cy="419.5" r="3.0" fill="#000"/>
<line x1="234.8" y1="412.8" x2="252.1" y2="412.8" stroke="#000" stroke-width="2.4"/>
<line x1="326.9" y1="380.9" x2="326.9" y2="525.9000000000001" stroke="#000" stroke-width="1.5"/>
<line x1="326.2" y1="525.2" x2="513.2" y2="525.2" stroke="#000" stroke-width="1.5"/>
<line x1="322.09999999999997" y1="525.2" x2="326.9" y2="525.2" stroke="#000" stroke-width="1.5"/>
<text x="320.9" y="528.2" font-size="8.6" text-anchor="end">0</text>
<line x1="322.09999999999997" y1="496.5" x2="326.9" y2="496.5" stroke="#000" stroke-width="1.5"/>
<text x="320.9" y="499.5" font-size="8.6" text-anchor="end">20</text>
<line x1="322.09999999999997" y1="467.7" x2="326.9" y2="467.7" stroke="#000" stroke-width="1.5"/>
<text x="320.9" y="470.7" font-size="8.6" text-anchor="end">40</text>
<line x1="322.09999999999997" y1="439.0" x2="326.9" y2="439.0" stroke="#000" stroke-width="1.5"/>
<text x="320.9" y="442.0" font-size="8.6" text-anchor="end">60</text>
<line x1="322.09999999999997" y1="410.2" x2="326.9" y2="410.2" stroke="#000" stroke-width="1.5"/>
<text x="320.9" y="413.2" font-size="8.6" text-anchor="end">80</text>
<line x1="322.09999999999997" y1="381.5" x2="326.9" y2="381.5" stroke="#000" stroke-width="1.5"/>
<text x="320.9" y="384.5" font-size="8.6" text-anchor="end">100</text>
<line x1="338.5" y1="525.2" x2="338.5" y2="529.1" stroke="#000" stroke-width="1.9"/>
<line x1="361.5" y1="525.2" x2="361.5" y2="529.1" stroke="#000" stroke-width="1.9"/>
<line x1="384.6" y1="525.2" x2="384.6" y2="529.1" stroke="#000" stroke-width="1.9"/>
<line x1="407" y1="525.2" x2="407" y2="529.1" stroke="#000" stroke-width="1.9"/>
<line x1="430.7" y1="525.2" x2="430.7" y2="529.1" stroke="#000" stroke-width="1.9"/>
<line x1="454.3" y1="525.2" x2="454.3" y2="529.1" stroke="#000" stroke-width="1.9"/>
<line x1="477.4" y1="525.2" x2="477.4" y2="529.1" stroke="#000" stroke-width="1.9"/>
<line x1="500.5" y1="525.2" x2="500.5" y2="529.1" stroke="#000" stroke-width="1.9"/>
<text x="349.3" y="537.6" font-size="8.6" text-anchor="middle">0</text>
<text x="395.8" y="537.6" font-size="8.6" text-anchor="middle">1</text>
<text x="442.7" y="537.6" font-size="8.6" text-anchor="middle">4</text>
<text x="487.8" y="537.6" font-size="8.6" text-anchor="middle">20</text>
<text x="361.5" y="554.0" font-size="15.5">HEL (molec/μm<tspan font-size="8.6" dy="-5.8">2</tspan><tspan dy="5.8">)</tspan></text>
<text transform="translate(294.2,513.2) rotate(-90)" font-size="15.5">CD69<tspan font-size="7.2" dy="-6.3">+</tspan><tspan dy="6.3"> B cells (%)</tspan></text>
<circle cx="344.4" cy="383.0" r="2.2" fill="#fff" stroke="#000" stroke-width="1.1"/>
<circle cx="344.4" cy="393.6" r="2.9" fill="#000"/>
<text x="349.6" y="384.8" font-size="12">none</text>
<text x="349.8" y="395.8" font-size="12">CXCL13</text>
<polyline points="384.1,475.6 384.1,461.6 406.5,461.6 406.5,468.8" fill="none" stroke="#6e6e6e" stroke-width="1.1"/>
<polyline points="428.5,466.3 428.5,443.1 451.3,443.1 451.3,461.1" fill="none" stroke="#6e6e6e" stroke-width="1.1"/>
<polyline points="476.9,411.5 476.9,397.8 499.7,397.8 499.7,405.2" fill="none" stroke="#6e6e6e" stroke-width="1.1"/>
<text x="395.2" y="458.5" font-size="9.2" text-anchor="middle">ns</text>
<text x="440.0" y="443.2" font-size="11.5" font-weight="bold" text-anchor="middle" letter-spacing="1">*</text>
<text x="488.0" y="395.1" font-size="9.2" text-anchor="middle">ns</text>
<circle cx="328.8" cy="505.9" r="2.35" fill="#fff" stroke="#000" stroke-width="1.45"/>
<circle cx="335.1" cy="507.3" r="2.35" fill="#fff" stroke="#000" stroke-width="1.45"/>
<circle cx="338" cy="505.9" r="2.35" fill="#fff" stroke="#000" stroke-width="1.45"/>
<circle cx="342.8" cy="503.5" r="2.35" fill="#fff" stroke="#000" stroke-width="1.45"/>
<circle cx="340.9" cy="508.8" r="2.35" fill="#fff" stroke="#000" stroke-width="1.45"/>
<circle cx="333.7" cy="512.1" r="2.35" fill="#fff" stroke="#000" stroke-width="1.45"/>
<circle cx="338" cy="516" r="2.35" fill="#fff" stroke="#000" stroke-width="1.45"/>
<circle cx="343.3" cy="515.5" r="2.35" fill="#fff" stroke="#000" stroke-width="1.45"/>
<line x1="331.7" y1="509.7" x2="346.6" y2="509.7" stroke="#000" stroke-width="2.4"/>
<circle cx="351.9" cy="497.7" r="3.0" fill="#000"/>
<circle cx="361.1" cy="500.1" r="3.0" fill="#000"/>
<circle cx="355.8" cy="509.7" r="3.0" fill="#000"/>
<circle cx="360.6" cy="508.3" r="3.0" fill="#000"/>
<circle cx="365.4" cy="510.7" r="3.0" fill="#000"/>
<circle cx="358.7" cy="512.6" r="3.0" fill="#000"/>
<circle cx="363.5" cy="513.6" r="3.0" fill="#000"/>
<circle cx="361" cy="511" r="3.0" fill="#000"/>
<line x1="353.4" y1="507.3" x2="370.2" y2="507.3" stroke="#000" stroke-width="2.4"/>
<circle cx="374.8" cy="489.5" r="2.35" fill="#fff" stroke="#000" stroke-width="1.45"/>
<circle cx="379.6" cy="485.2" r="2.35" fill="#fff" stroke="#000" stroke-width="1.45"/>
<circle cx="389.7" cy="485.2" r="2.35" fill="#fff" stroke="#000" stroke-width="1.45"/>
<circle cx="384.4" cy="491" r="2.35" fill="#fff" stroke="#000" stroke-width="1.45"/>
<circle cx="384.4" cy="513.6" r="2.35" fill="#fff" stroke="#000" stroke-width="1.45"/>
<circle cx="389.7" cy="509.2" r="2.35" fill="#fff" stroke="#000" stroke-width="1.45"/>
<line x1="375.8" y1="496.2" x2="393.6" y2="496.2" stroke="#000" stroke-width="2.4"/>
<circle cx="408" cy="482.3" r="3.0" fill="#000"/>
<circle cx="397.9" cy="488.1" r="3.0" fill="#000"/>
<circle cx="402.2" cy="494.3" r="3.0" fill="#000"/>
<circle cx="408" cy="492.9" r="3.0" fill="#000"/>
<circle cx="407.5" cy="502.5" r="3.0" fill="#000"/>
<circle cx="412.3" cy="500.6" r="3.0" fill="#000"/>
<line x1="399.8" y1="493.8" x2="416.2" y2="493.8" stroke="#000" stroke-width="2.4"/>
<circle cx="430.6" cy="480.2" r="2.35" fill="#fff" stroke="#000" stroke-width="1.45"/>
<circle cx="435.8" cy="479.6" r="2.35" fill="#fff" stroke="#000" stroke-width="1.45"/>
<circle cx="435.6" cy="486.6" r="2.35" fill="#fff" stroke="#000" stroke-width="1.45"/>
<circle cx="431.2" cy="492.9" r="2.35" fill="#fff" stroke="#000" stroke-width="1.45"/>
<circle cx="426" cy="500.4" r="2.35" fill="#fff" stroke="#000" stroke-width="1.45"/>
<circle cx="430.6" cy="509.1" r="2.35" fill="#fff" stroke="#000" stroke-width="1.45"/>
<circle cx="435.8" cy="507.3" r="2.35" fill="#fff" stroke="#000" stroke-width="1.45"/>
<line x1="422.5" y1="493.1" x2="439.2" y2="493.1" stroke="#000" stroke-width="2.4"/>
<circle cx="453.7" cy="471.5" r="3.0" fill="#000"/>
<circle cx="449.1" cy="476.7" r="3.0" fill="#000"/>
<circle cx="456" cy="475" r="3.0" fill="#000"/>
<circle cx="459.5" cy="477.3" r="3.0" fill="#000"/>
<circle cx="444.4" cy="483.7" r="3.0" fill="#000"/>
<circle cx="454.3" cy="483.7" r="3.0" fill="#000"/>
<circle cx="453.7" cy="499.8" r="3.0" fill="#000"/>
<circle cx="458.9" cy="497.5" r="3.0" fill="#000"/>
<line x1="444.4" y1="483.1" x2="462.9" y2="483.1" stroke="#000" stroke-width="2.4"/>
<circle cx="477.5" cy="421.3" r="2.35" fill="#fff" stroke="#000" stroke-width="1.45"/>
<circle cx="474.6" cy="424.2" r="2.35" fill="#fff" stroke="#000" stroke-width="1.45"/>
<circle cx="471.7" cy="426.2" r="2.35" fill="#fff" stroke="#000" stroke-width="1.45"/>
<circle cx="479.4" cy="425.2" r="2.35" fill="#fff" stroke="#000" stroke-width="1.45"/>
<circle cx="483.3" cy="427.1" r="2.35" fill="#fff" stroke="#000" stroke-width="1.45"/>
<circle cx="476.5" cy="427.6" r="2.35" fill="#fff" stroke="#000" stroke-width="1.45"/>
<circle cx="477" cy="431" r="2.35" fill="#fff" stroke="#000" stroke-width="1.45"/>
<circle cx="479.9" cy="428.6" r="2.35" fill="#fff" stroke="#000" stroke-width="1.45"/>
<line x1="471" y1="427.3" x2="485" y2="427.3" stroke="#000" stroke-width="2.4"/>
<circle cx="490.5" cy="416.5" r="3.0" fill="#000"/>
<circle cx="500.6" cy="417.5" r="3.0" fill="#000"/>
<circle cx="502.5" cy="427.6" r="3.0" fill="#000"/>
<circle cx="494.8" cy="433.4" r="3.0" fill="#000"/>
<circle cx="498.7" cy="434.8" r="3.0" fill="#000"/>
<circle cx="504.4" cy="433.8" r="3.0" fill="#000"/>
<circle cx="501.5" cy="435.8" r="3.0" fill="#000"/>
<line x1="491.9" y1="427.9" x2="508.8" y2="427.9" stroke="#000" stroke-width="2.4"/>
<rect x="419.0" y="484.70000000000005" width="4.8" height="4.8" fill="#fff" stroke="#000" stroke-width="1.3"/>
</svg>
</body></html>
